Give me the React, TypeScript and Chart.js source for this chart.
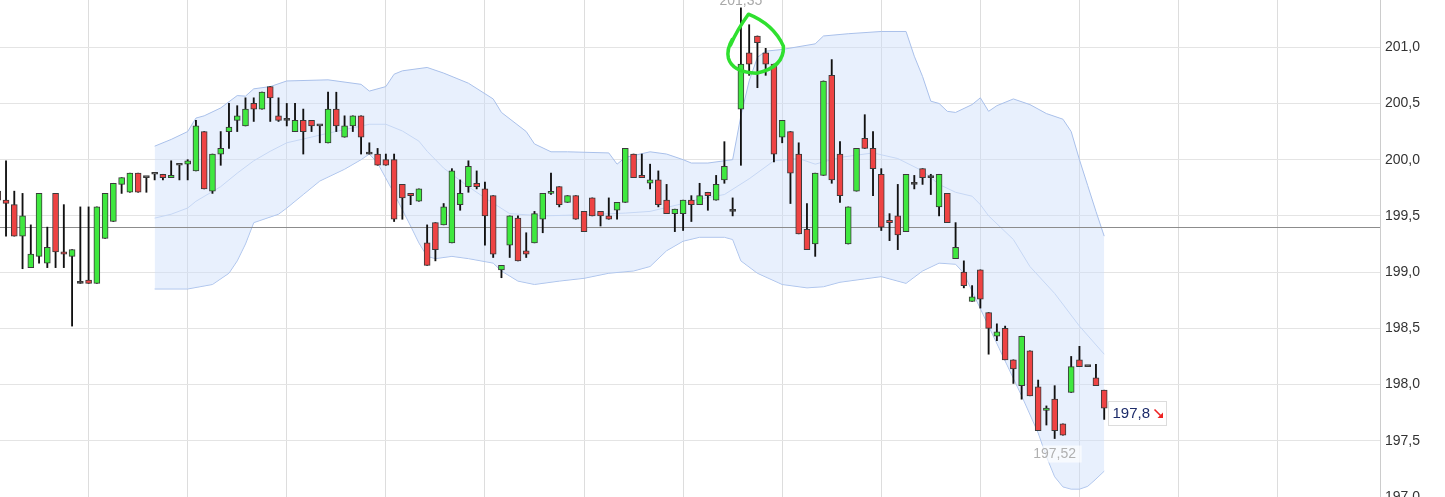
import React, { useEffect, useRef } from 'react';
import { Chart, registerables } from 'chart.js';

Chart.register(...registerables);

// ---- candle data (index of first candle, then OHLC) ----
const firstCandle = -11;
const opens = [
  199.72, 199.64, 199.60, 199.32, 199.04, 199.14, 199.08, 199.70, 199.18, 199.14,
  198.90, 198.93, 198.90, 199.30, 199.45, 199.78, 199.71, 199.88, 199.84, 199.87,
  199.87, 199.84, 199.95, 199.96, 199.90, 200.25, 199.72, 200.05, 200.25, 200.35,
  200.30, 200.50, 200.45, 200.65, 200.39, 200.35, 200.25, 200.35, 200.35, 200.30,
  200.15, 200.45, 200.20, 200.30, 200.39, 200.05, 200.05, 200.00, 200.00, 199.78,
  199.70, 199.63, 199.26, 199.44, 199.42, 199.26, 199.60, 199.76, 199.79, 199.74,
  199.68, 199.02, 199.24, 199.48, 199.19, 199.26, 199.47, 199.70, 199.76, 199.62,
  199.68, 199.54, 199.66, 199.54, 199.50, 199.55, 199.62, 200.05, 199.86, 199.79,
  199.82, 199.64, 199.52, 199.52, 199.64, 199.60, 199.71, 199.64, 199.82, 199.54,
  200.45, 200.95, 201.10, 200.95, 200.85, 200.20, 200.25, 200.05, 199.38, 199.25,
  199.86, 200.75, 200.05, 199.25, 199.72, 200.19, 200.10, 199.87, 199.46, 199.50,
  199.36, 199.78, 199.92, 199.84, 199.58, 199.70, 199.12, 199.00, 198.74, 199.02,
  198.64, 198.43, 198.50, 198.22, 197.99, 198.30, 197.98, 197.77, 197.87, 197.65,
  197.93, 198.22, 198.16, 198.06, 197.95,
];
const highs = [
  199.75, 199.99, 199.72, 199.70, 199.42, 199.70, 199.40, 199.70, 199.60, 199.20,
  199.58, 199.58, 199.58, 199.70, 199.79, 199.84, 199.88, 199.88, 199.84, 199.87,
  199.87, 199.99, 199.95, 200.00, 200.35, 200.25, 200.05, 200.25, 200.50, 200.48,
  200.55, 200.55, 200.60, 200.65, 200.55, 200.50, 200.50, 200.45, 200.35, 200.30,
  200.60, 200.60, 200.39, 200.39, 200.39, 200.15, 200.10, 200.05, 200.05, 199.78,
  199.70, 199.74, 199.42, 199.44, 199.61, 199.92, 199.82, 199.99, 199.90, 199.80,
  199.68, 199.06, 199.50, 199.50, 199.35, 199.54, 199.70, 199.88, 199.76, 199.68,
  199.68, 199.54, 199.66, 199.54, 199.66, 199.62, 200.10, 200.05, 200.05, 199.96,
  199.90, 199.78, 199.56, 199.64, 199.68, 199.79, 199.71, 199.86, 200.16, 199.66,
  201.35, 201.20, 201.10, 200.99, 200.85, 200.35, 200.25, 200.15, 199.61, 199.88,
  200.70, 200.89, 200.16, 199.58, 200.10, 200.40, 200.25, 199.92, 199.52, 199.78,
  199.87, 199.86, 199.92, 199.87, 199.87, 199.70, 199.44, 199.10, 198.88, 199.02,
  198.64, 198.54, 198.52, 198.22, 198.43, 198.30, 198.04, 197.81, 197.99, 197.65,
  198.25, 198.34, 198.16, 198.18, 197.95,
];
const lows = [
  199.62, 199.32, 199.32, 199.03, 199.04, 199.08, 199.04, 199.04, 199.04, 198.52,
  198.90, 198.90, 198.90, 199.30, 199.45, 199.70, 199.71, 199.71, 199.71, 199.82,
  199.82, 199.84, 199.82, 199.82, 199.90, 199.74, 199.70, 199.95, 200.10, 200.25,
  200.30, 200.34, 200.45, 200.34, 200.34, 200.30, 200.25, 200.05, 200.25, 200.15,
  200.15, 200.25, 200.20, 200.25, 200.05, 200.05, 199.95, 199.95, 199.45, 199.47,
  199.60, 199.63, 199.06, 199.10, 199.42, 199.26, 199.55, 199.71, 199.74, 199.24,
  199.13, 198.95, 199.13, 199.10, 199.13, 199.26, 199.35, 199.69, 199.58, 199.62,
  199.47, 199.36, 199.50, 199.41, 199.47, 199.47, 199.62, 199.84, 199.84, 199.74,
  199.58, 199.52, 199.36, 199.37, 199.45, 199.60, 199.55, 199.64, 199.79, 199.50,
  199.95, 200.75, 200.64, 200.75, 199.98, 200.15, 199.61, 199.34, 199.20, 199.14,
  199.86, 199.79, 199.62, 199.25, 199.72, 200.10, 199.68, 199.37, 199.28, 199.20,
  199.36, 199.74, 199.78, 199.69, 199.50, 199.44, 199.12, 198.86, 198.74, 198.68,
  198.27, 198.39, 198.22, 198.01, 197.87, 197.90, 197.59, 197.64, 197.52, 197.55,
  197.93, 198.16, 198.16, 197.99, 197.69,
];
const closes = [
  199.64, 199.61, 199.32, 199.50, 199.16, 199.70, 199.22, 199.18, 199.16, 199.20,
  198.90, 198.90, 199.58, 199.70, 199.79, 199.84, 199.88, 199.71, 199.84, 199.87,
  199.84, 199.86, 199.95, 199.99, 200.30, 199.74, 200.05, 200.10, 200.29, 200.39,
  200.45, 200.45, 200.60, 200.55, 200.35, 200.35, 200.35, 200.25, 200.30, 200.30,
  200.45, 200.30, 200.30, 200.39, 200.20, 200.05, 199.95, 199.95, 199.47, 199.66,
  199.68, 199.74, 199.06, 199.20, 199.58, 199.90, 199.70, 199.94, 199.76, 199.50,
  199.16, 199.06, 199.50, 199.10, 199.16, 199.52, 199.70, 199.71, 199.60, 199.68,
  199.47, 199.36, 199.50, 199.50, 199.47, 199.62, 200.10, 199.84, 199.84, 199.82,
  199.60, 199.52, 199.56, 199.64, 199.60, 199.68, 199.68, 199.78, 199.94, 199.54,
  200.85, 200.85, 201.04, 200.85, 200.05, 200.35, 199.88, 199.34, 199.20, 199.88,
  200.70, 199.82, 199.68, 199.58, 200.10, 200.10, 199.92, 199.40, 199.44, 199.33,
  199.87, 199.78, 199.84, 199.84, 199.87, 199.44, 199.22, 198.88, 198.78, 198.76,
  198.50, 198.47, 198.22, 198.14, 198.43, 197.90, 197.59, 197.79, 197.59, 197.55,
  198.16, 198.16, 198.16, 197.99, 197.79,
];

// ---- Bollinger band (candle index, value) ----
const upperAt = [8, 10, 12, 13, 14, 16, 18, 19, 20, 22, 24, 29, 33, 34, 36, 37, 38, 41, 43, 46, 49, 50, 53, 54, 56, 58, 63, 64, 65, 68, 70, 72, 73, 75, 78, 79, 80, 81, 82, 84, 88, 89, 92, 96, 99, 100, 101, 102, 103, 104, 105, 107, 108, 109, 110, 112, 114, 116, 118, 119, 120, 121, 122, 123];
const upperVal = [200.12, 200.18, 200.25, 200.37, 200.39, 200.46, 200.57, 200.565, 200.63, 200.65, 200.70, 200.71, 200.67, 200.61, 200.65, 200.76, 200.79, 200.82, 200.77, 200.68, 200.54, 200.42, 200.25, 200.14, 200.07, 200.07, 200.06, 199.96, 200.02, 200.07, 200.05, 200.00, 199.97, 199.97, 200.00, 200.39, 200.70, 200.91, 200.965, 200.98, 201.03, 201.10, 201.12, 201.14, 201.14, 200.92, 200.74, 200.52, 200.50, 200.43, 200.42, 200.49, 200.55, 200.43, 200.48, 200.54, 200.49, 200.41, 200.36, 200.25, 200.00, 199.77, 199.54, 199.32];
const lowerAt = [8, 12, 15, 17, 18, 19, 20, 23, 24, 26, 28, 31, 33, 34, 35, 37, 39, 40, 41, 42, 44, 46, 49, 50, 52, 54, 57, 60, 63, 66, 68, 70, 72, 74, 77, 78, 79, 81, 84, 87, 89, 91, 94, 96, 99, 101, 103, 105, 106, 107, 109, 111, 113, 115, 116, 117, 118, 119, 120, 121, 122, 123];
const lowerVal = [198.85, 198.85, 198.89, 198.99, 199.10, 199.25, 199.44, 199.515, 199.57, 199.69, 199.81, 199.915, 200.00, 200.05, 199.97, 199.70, 199.41, 199.26, 199.14, 199.12, 199.14, 199.12, 199.08, 199.01, 198.92, 198.89, 198.92, 198.945, 198.99, 199.01, 199.05, 199.19, 199.275, 199.31, 199.31, 199.29, 199.10, 198.99, 198.89, 198.86, 198.87, 198.91, 198.94, 198.96, 198.90, 199.01, 199.08, 199.07, 198.99, 198.83, 198.52, 198.21, 197.90, 197.57, 197.36, 197.18, 197.09, 197.07, 197.07, 197.095, 197.16, 197.23];
const middleAt = [8, 10, 12, 13, 16, 18, 20, 22, 24, 29, 34, 36, 38, 40, 41, 43, 46, 48, 51, 55, 60, 65, 68, 72, 74, 77, 80, 83, 86, 88, 91, 95, 98, 101, 103, 105, 107, 108, 109, 112, 114, 117, 120, 123];
const middleVal = [199.48, 199.515, 199.57, 199.63, 199.76, 199.88, 199.99, 200.075, 200.15, 200.235, 200.315, 200.315, 200.255, 200.165, 200.075, 199.925, 199.76, 199.66, 199.52, 199.50, 199.51, 199.525, 199.54, 199.61, 199.65, 199.69, 199.83, 199.99, 200.01, 199.96, 200.02, 200.06, 200.01, 199.90, 199.78, 199.71, 199.675, 199.60, 199.50, 199.29, 199.05, 198.81, 198.52, 198.27];

// ---- reference line, axis, annotation ----
const prevClose = 199.40;
const gridTicks = [0, 12, 24, 36, 48, 60, 72, 84, 96, 108, 120, 132, 144];
const yTickStep = 0.5;
const yMin = 197.0;
const yMax = 201.42;
const xMin = -10.73;
const xMax = 156.4;
const circledCandle = 81;
const circledValue = 201.0;

const GREEN = '#3fe83f';
const RED = '#ee4343';
const DOJI = '#444444';
const FONT = '"Liberation Sans", Arial, sans-serif';

const fmt = (v: number, d: number) => v.toFixed(d).replace('.', ',');

const overlayPlugin = {
  id: 'overlays',
  beforeDatasetDraw(chart: any, args: any) {
    if (args.index !== 1) return;
    const { ctx, chartArea } = chart;
    const y = Math.round(chart.scales.y.getPixelForValue(prevClose)) + 0.5;
    ctx.save();
    ctx.strokeStyle = '#8c8c8c';
    ctx.lineWidth = 1;
    ctx.beginPath();
    ctx.moveTo(chartArea.left, y);
    ctx.lineTo(chartArea.right, y);
    ctx.stroke();
    ctx.restore();
  },
  afterDatasetsDraw(chart: any) {
    const { ctx } = chart;
    const xs = chart.scales.x;
    const ys = chart.scales.y;
    ctx.save();
    // highest high label
    const hi = Math.max(...highs);
    const hiI = highs.indexOf(hi) + firstCandle;
    ctx.font = `14px ${FONT}`;
    ctx.fillStyle = '#a8a8a8';
    ctx.textAlign = 'center';
    ctx.textBaseline = 'alphabetic';
    ctx.fillText(fmt(hi, 2), xs.getPixelForValue(hiI), ys.getPixelForValue(hi) - 3);
    // lowest low label
    const lo = Math.min(...lows);
    const loI = lows.indexOf(lo) + firstCandle;
    const lx = xs.getPixelForValue(loI);
    const ly = ys.getPixelForValue(lo) + 9;
    ctx.fillStyle = 'rgba(255,255,255,0.65)';
    ctx.fillRect(lx - 25, ly - 2, 52, 17);
    ctx.fillStyle = '#b0b0b0';
    ctx.textBaseline = 'top';
    ctx.fillText(fmt(lo, 2), lx, ly);
    // last price box
    const last = closes[closes.length - 1];
    const lastI = closes.length - 1 + firstCandle;
    const bx = Math.round(xs.getPixelForValue(lastI)) + 4.5;
    const bc = ys.getPixelForValue(last) + 5;
    const by = Math.round(bc - 12) + 0.5;
    ctx.fillStyle = '#ffffff';
    ctx.fillRect(bx, by, 58, 24);
    ctx.strokeStyle = '#dcdcdc';
    ctx.lineWidth = 1;
    ctx.strokeRect(bx, by, 58, 24);
    ctx.font = `15px ${FONT}`;
    ctx.fillStyle = '#1d2c6a';
    ctx.textAlign = 'left';
    ctx.textBaseline = 'middle';
    ctx.fillText(fmt(last, 1), bx + 4, by + 12.5);
    // red down arrow
    const ax = bx + 46, ay = by + 8;
    ctx.strokeStyle = '#ee2222';
    ctx.fillStyle = '#ee2222';
    ctx.lineWidth = 1.6;
    ctx.beginPath();
    ctx.moveTo(ax, ay);
    ctx.lineTo(ax + 6, ay + 6);
    ctx.stroke();
    ctx.beginPath();
    ctx.moveTo(ax + 8.5, ay + 8.5);
    ctx.lineTo(ax + 8.5, ay + 3);
    ctx.lineTo(ax + 3, ay + 8.5);
    ctx.closePath();
    ctx.fill();
    // hand-drawn green circle annotation
    const cx = xs.getPixelForValue(circledCandle);
    const cy = ys.getPixelForValue(circledValue);
    ctx.strokeStyle = '#2fe02f';
    ctx.lineWidth = 3.5;
    ctx.lineCap = 'round';
    ctx.lineJoin = 'round';
    ctx.beginPath();
    ctx.moveTo(cx - 27, cy - 2);
    ctx.quadraticCurveTo(cx - 20, cy - 18, cx - 9, cy - 33);
    ctx.quadraticCurveTo(cx + 16, cy - 23, cx + 26, cy - 1);
    ctx.quadraticCurveTo(cx + 27, cy + 20, cx - 1, cy + 26);
    ctx.quadraticCurveTo(cx - 25, cy + 25, cx - 29, cy + 11);
    ctx.quadraticCurveTo(cx - 31, cy + 2, cx - 25, cy - 8);
    ctx.stroke();
    ctx.restore();
  },
};

export default function App() {
  const ref = useRef<HTMLCanvasElement>(null);
  useEffect(() => {
    document.body.style.margin = '0';
    const bodyData = opens.map((o, i) => ({ x: i + firstCandle, y: [o, closes[i]] }));
    const wickData = lows.map((l, i) => ({ x: i + firstCandle, y: [l, highs[i]] }));
    const bodyColors = opens.map((o, i) => (closes[i] > o ? GREEN : closes[i] < o ? RED : DOJI));
    const pts = (at: number[], val: number[]) => at.map((x, i) => ({ x, y: val[i] }));
    const chart = new Chart(ref.current as HTMLCanvasElement, {
      type: 'bar',
      data: {
        datasets: [
          {
            type: 'bar',
            data: bodyData as any,
            backgroundColor: bodyColors,
            borderColor: '#3a3a3a',
            borderWidth: 1,
            borderSkipped: false,
            barThickness: 6,
            minBarLength: 2,
            grouped: false,
            order: 0,
          } as any,
          {
            type: 'bar',
            data: wickData as any,
            backgroundColor: '#111111',
            borderWidth: 0,
            barThickness: 1.2,
            grouped: false,
            order: 1,
          } as any,
          {
            type: 'line',
            data: pts(upperAt, upperVal) as any,
            borderColor: '#a9c0ea',
            borderWidth: 1,
            pointRadius: 0,
            tension: 0,
            fill: '+1',
            backgroundColor: 'rgba(205,221,250,0.45)',
            order: 3,
          } as any,
          {
            type: 'line',
            data: pts(lowerAt, lowerVal) as any,
            borderColor: '#a9c0ea',
            borderWidth: 1,
            pointRadius: 0,
            tension: 0,
            fill: false,
            order: 3,
          } as any,
          {
            type: 'line',
            data: pts(middleAt, middleVal) as any,
            borderColor: '#c6d7f4',
            borderWidth: 1,
            pointRadius: 0,
            tension: 0,
            fill: false,
            order: 2,
          } as any,
        ],
      },
      options: {
        responsive: false,
        animation: false,
        devicePixelRatio: 1,
        layout: { padding: 0 },
        plugins: { legend: { display: false }, tooltip: { enabled: false } },
        scales: {
          x: {
            type: 'linear',
            min: xMin,
            max: xMax,
            offset: false,
            afterBuildTicks: (s: any) => {
              s.ticks = gridTicks.map((v) => ({ value: v }));
            },
            ticks: { display: false },
            grid: { color: '#dddddd', drawTicks: false, offset: false },
            border: { display: false },
          },
          y: {
            type: 'linear',
            position: 'right',
            min: yMin,
            max: yMax,
            afterFit: (s: any) => {
              s.width = 65;
              s.paddingTop = 0;
              s.paddingBottom = 0;
            },
            ticks: {
              stepSize: yTickStep,
              includeBounds: false,
              padding: 5,
              color: '#333333',
              font: { family: FONT, size: 14 },
              callback: (v: any) => fmt(Number(v), 1),
            },
            grid: { color: '#e4e4e4', drawTicks: false },
            border: { color: '#cccccc' },
          },
        } as any,
      },
      plugins: [overlayPlugin as any],
    });
    return () => chart.destroy();
  }, []);
  return (
    <div style={{ position: 'fixed', left: 0, top: 0, width: 1445, height: 497, overflow: 'hidden', background: '#ffffff' }}>
      <canvas ref={ref} width={1445} height={497} style={{ display: 'block', width: 1445, height: 497 }} />
    </div>
  );
}
